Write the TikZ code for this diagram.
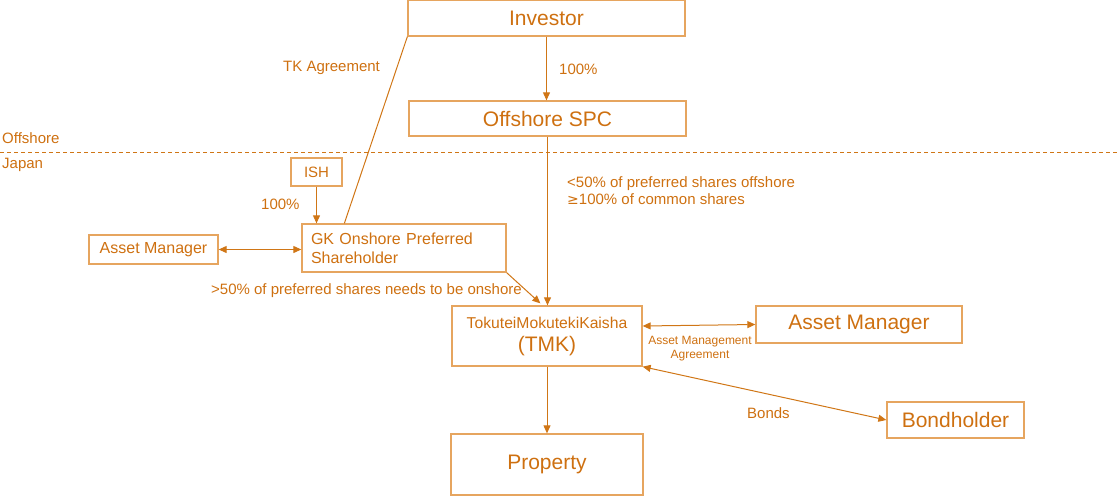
\documentclass[tikz,border=0pt]{standalone}
\usepackage{fontspec}
\setmainfont{Liberation Sans}
\usetikzlibrary{arrows.meta,calc}
\definecolor{txt}{RGB}{206,112,16}
\definecolor{bord}{RGB}{230,165,95}
\definecolor{ln}{RGB}{208,118,22}
\begin{document}
\begin{tikzpicture}[x=1pt,y=-1pt,
  box/.style={draw=bord,line width=1.3pt,text=txt,inner sep=0pt,rectangle},
  big/.style={font=\fontsize{21}{24}\selectfont},
  mid/.style={font=\fontsize{16}{19}\selectfont},
  lab/.style={text=txt,font=\fontsize{15}{17}\selectfont,inner sep=0pt},
  con/.style={draw=ln,line width=1pt},
  arr/.style={con,-{Triangle[length=8pt,width=7pt]}},
  darr/.style={con,{Triangle[length=8pt,width=7pt]}-{Triangle[length=8pt,width=7pt]}}]
\useasboundingbox (0,0) rectangle (1120,496);
% dashed border line
\coordinate (dl) at (0,152);
\coordinate (dr) at (1120,152);
\draw[ln,line width=1pt,dash pattern=on 4pt off 3pt] (dl) -- (dr);
\node[lab,anchor=west] (offl) at (2,138.5) {Offshore};
\node[lab,anchor=west] (jpl) at (2,165) {Japan};
% boxes
\node[box,big,minimum width=277,minimum height=35.5] (inv) at (546.5,18.25) {Investor};
\node[box,big,minimum width=277,minimum height=35] (spc) at (547.5,118.5) {Offshore SPC};
\node[box,font=\fontsize{15}{17}\selectfont,minimum width=51,minimum height=28] (ish) at (316.5,172) {ISH};
\node[box,mid,minimum width=204,minimum height=48,align=left,text width=186,inner xsep=9pt] (gk) at (404,248) {GK Onshore Preferred\\Shareholder};
\node[box,mid,minimum width=129,minimum height=29] (aml) at (153.5,249.5) {Asset Manager};
\node[box,font=\fontsize{21}{23}\selectfont,minimum width=190,minimum height=60,align=center] (tmk) at (547,336) {{\fontsize{15.7}{18}\selectfont TokuteiMokutekiKaisha}\\{(TMK)}};
\node[box,big,minimum width=206,minimum height=37] (amr) at (859,324.5) {Asset Manager};
\node[box,big,minimum width=137,minimum height=36] (bond) at (955.5,420) {Bondholder};
\node[box,big,minimum width=192,minimum height=61] (prop) at (547,464.5) {Property};
% connectors
\draw[arr] (inv.south) -- (inv.south |- spc.north);
\node[lab,anchor=west] (l100a) at (559,69.5) {100\%};
\draw[con] (inv.south west) -- ($(gk.north west)+(43,0)$);
\node[lab,anchor=west] (ltk) at (283,67.5) {TK Agreement};
\draw[arr] (spc.south) -- (spc.south |- tmk.north);
\node[lab,anchor=west,align=left] (lspc) at (567,190.5) {<50\% of preferred shares offshore\\[0pt]{\fontspec{DejaVu Sans}\fontsize{14}{17}\selectfont ≥}100\% of common shares};
\draw[arr] (ish.south) -- (ish.south |- gk.north);
\node[lab,anchor=west] (l100b) at (261,204.5) {100\%};
\draw[darr] (aml.east) -- (aml.east -| gk.west);
\draw[arr] (gk.south east) -- ($(tmk.north west)+(89,-2)$);
\node[lab,anchor=west] (lgk) at (211,290.5) {>50\% of preferred shares needs to be onshore};
\draw[darr] ($(tmk.east)+(0,-10)$) -- (amr.west);
\node[lab,font=\fontsize{12}{13.5}\selectfont,align=center] (lam) at (700,348.5) {Asset Management\\Agreement};
\draw[darr] (tmk.south east) -- (bond.west);
\node[lab,anchor=west] (lb) at (747,413.5) {Bonds};
\draw[arr] (tmk.south) -- (prop.north);
\end{tikzpicture}
\end{document}
